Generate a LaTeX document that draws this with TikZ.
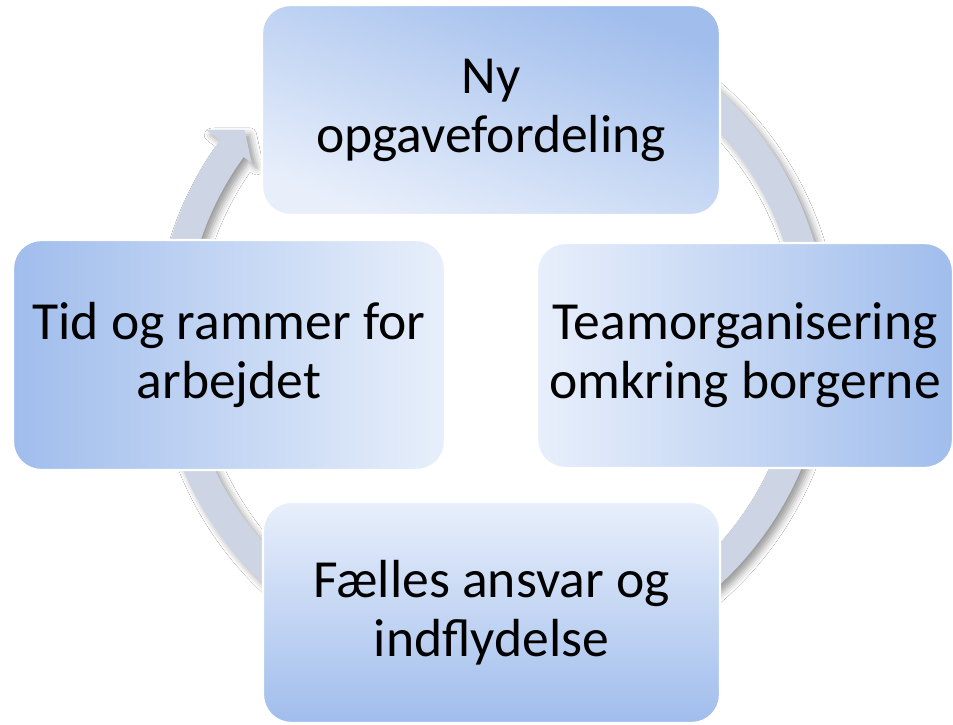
\documentclass[tikz,border=0pt]{standalone}
\usepackage{fontspec}
\setmainfont{Carlito}
\usetikzlibrary{shadows.blur}
\definecolor{boxdark}{RGB}{160,189,236}
\definecolor{boxlight}{RGB}{232,239,251}
\definecolor{ringfill}{RGB}{205,212,228}
\tikzset{
  stagebox/.style={rectangle, rounded corners=14pt, draw=white, line width=1.2pt,
    inner sep=0pt, align=center, text=black,
    font=\fontsize{26.8}{29.5}\selectfont},
  ringshadow/.style={blur shadow={shadow xshift=2.5pt, shadow yshift=-2.5pt,
    shadow blur radius=3.5pt, shadow opacity=40}}
}
\begin{document}
\begin{tikzpicture}[x=0.5pt,y=0.5pt]
\useasboundingbox (0,0) rectangle (953,724);
\fill[white] (0,0) rectangle (953,724);

% circular arrow running clockwise behind the four stages
\coordinate (hub) at (492,386.5);
\begin{scope}[shift={(hub)}]
  \fill[ringfill, ringshadow]
    (420:336) arc[start angle=420, end angle=144, radius=336]
    -- (144:353) -- (140:323) -- (144:297) -- (144:307)
    arc[start angle=144, end angle=420, radius=307] -- cycle;
\end{scope}

% the four stages
\node[stagebox, minimum width=229pt, minimum height=105pt,
      top color=boxdark, bottom color=boxlight, shading angle=-20]
  (ny) at (491,614) {Ny\\opgavefordeling};
\node[stagebox, minimum width=208pt, minimum height=112.5pt,
      left color=boxlight, right color=boxdark]
  (team) at (745,368.5) {Teamorganisering\\omkring borgerne};
\node[stagebox, minimum width=228.5pt, minimum height=110.5pt,
      top color=boxlight, bottom color=boxdark]
  (faelles) at (491.5,111.5) {Fælles ansvar og\\indflydelse};
\node[stagebox, minimum width=216pt, minimum height=115pt,
      left color=boxdark, right color=boxlight]
  (tid) at (229,369) {Tid og rammer for\\arbejdet};
\end{tikzpicture}
\end{document}
